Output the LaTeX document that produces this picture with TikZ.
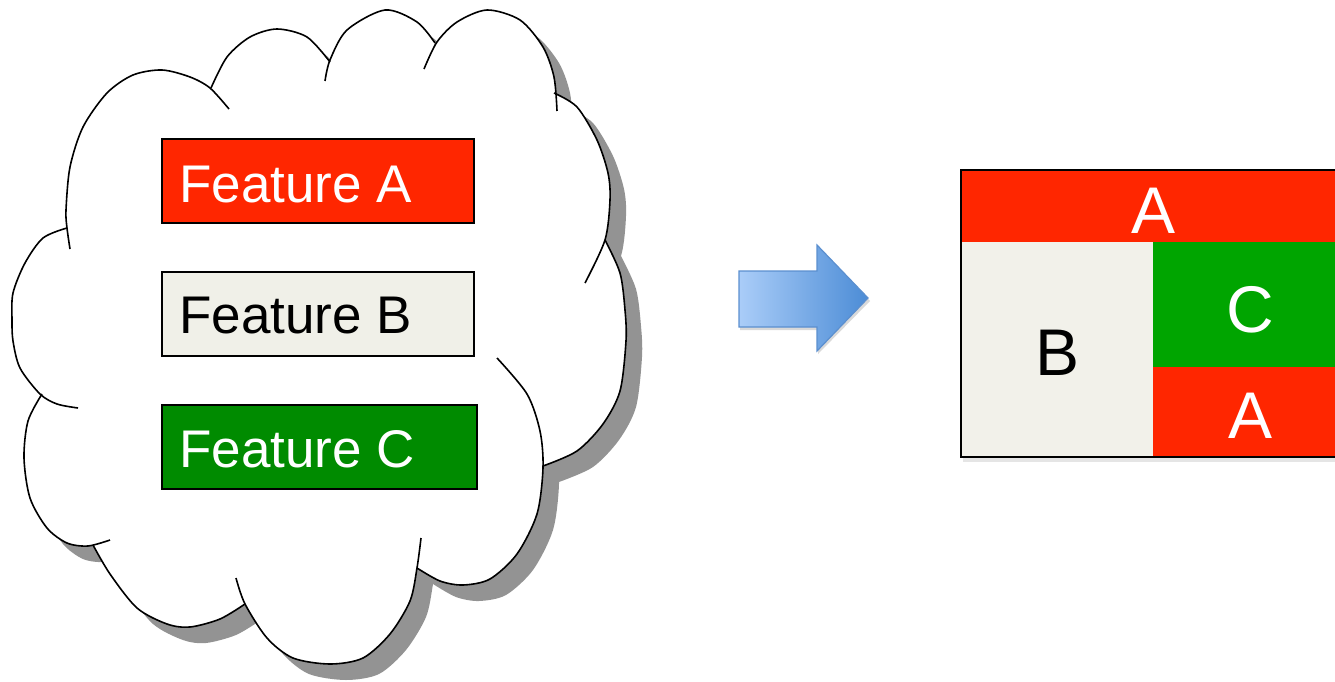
\documentclass[tikz,border=0pt]{standalone}
\usepackage{fontspec}
\setmainfont{Liberation Sans}
\definecolor{fred}{HTML}{FF2600}
\definecolor{fgreen}{HTML}{008B00}
\definecolor{bgreen}{HTML}{00A500}
\definecolor{fbeige}{HTML}{F0F0E8}
\definecolor{bbeige}{HTML}{F2F1EA}
\definecolor{shadowgray}{HTML}{939393}
\definecolor{arrowL}{HTML}{AACDF8}
\definecolor{arrowR}{HTML}{4C8CD6}
\definecolor{arrowE}{HTML}{5B8FCF}
\begin{document}
\begin{tikzpicture}[x=1pt,y=-1pt,
  lobe/.style={draw=black, line width=1.6pt},
  featbox/.style={draw=black, line width=2pt, inner sep=0pt, anchor=north west},
  feattext/.style={anchor=base west, inner sep=0pt, font=\fontsize{53}{60}\selectfont},
  bigletter/.style={anchor=base, inner sep=0pt, font=\fontsize{66}{72}\selectfont}]
\useasboundingbox (0,0) rectangle (1335,682);
\clip (0,0) rectangle (1335,682);

% cloud fill with shadow
\path[fill=white, preaction={fill=shadowgray, transform canvas={shift={(16,16)}}}]
  plot[smooth] coordinates {(70,249) (67,228) (66,210) (70,167) (83,127) (107,93) (133,75) (162,70) (190,77) (210,88) (229,109)}
  -- plot[smooth] coordinates {(211,88) (227,57) (250,37) (277,29) (307,37) (330,62)}
  -- plot[smooth] coordinates {(325,81) (330,60) (347,30) (385,10) (417,22) (435,43)}
  -- plot[smooth] coordinates {(424,69) (437,42) (457,22) (487,10) (520,20) (543,47) (554,77) (557,111)}
  -- plot[smooth] coordinates {(554,93) (577,107) (597,140) (608,173) (610,200) (605,240) (585,283)}
  -- plot[smooth] coordinates {(605,240) (620,273) (625,310) (626,341) (620,391) (603,424) (577,451) (543,466)}
  -- plot[smooth] coordinates {(497,358) (527,394) (540,431) (543,468) (537,514) (517,554) (490,579) (463,585) (440,581) (417,568)}
  -- plot[smooth] coordinates {(421,538) (417,568) (410,601) (390,634) (363,658) (330,664) (293,658) (267,638) (245,604) (236,578)}
  -- plot[smooth] coordinates {(245,604) (220,619) (190,627) (167,624) (137,608) (110,574) (93,545)}
  -- plot[smooth] coordinates {(110,540) (88,546) (67,543) (47,528) (30,498) (24,458) (28,421) (42,394)}
  -- plot[smooth] coordinates {(78,408) (57,404) (40,394) (20,368) (13,341) (12,320) (13,293) (25,263) (43,238) (67,228)}
  -- cycle;

% cloud lobes
\draw[lobe] plot[smooth] coordinates {(70,249) (67,228) (66,210) (70,167) (83,127) (107,93) (133,75) (162,70) (190,77) (210,88) (229,109)};
\draw[lobe] plot[smooth] coordinates {(211,88) (227,57) (250,37) (277,29) (307,37) (330,62)};
\draw[lobe] plot[smooth] coordinates {(325,81) (330,60) (347,30) (385,10) (417,22) (435,43)};
\draw[lobe] plot[smooth] coordinates {(424,69) (437,42) (457,22) (487,10) (520,20) (543,47) (554,77) (557,111)};
\draw[lobe] plot[smooth] coordinates {(554,93) (577,107) (597,140) (608,173) (610,200) (605,240) (585,283)};
\draw[lobe] plot[smooth] coordinates {(605,240) (620,273) (625,310) (626,341) (620,391) (603,424) (577,451) (543,466)};
\draw[lobe] plot[smooth] coordinates {(497,358) (527,394) (540,431) (543,468) (537,514) (517,554) (490,579) (463,585) (440,581) (417,568)};
\draw[lobe] plot[smooth] coordinates {(421,538) (417,568) (410,601) (390,634) (363,658) (330,664) (293,658) (267,638) (245,604) (236,578)};
\draw[lobe] plot[smooth] coordinates {(245,604) (220,619) (190,627) (167,624) (137,608) (110,574) (93,545)};
\draw[lobe] plot[smooth] coordinates {(110,540) (88,546) (67,543) (47,528) (30,498) (24,458) (28,421) (42,394)};
\draw[lobe] plot[smooth] coordinates {(78,408) (57,404) (40,394) (20,368) (13,341) (12,320) (13,293) (25,263) (43,238) (67,228)};

% feature boxes
\node[featbox, fill=fred, minimum width=312pt, minimum height=84pt] (boxa) at (161,138) {};
\node[featbox, fill=fbeige, minimum width=312pt, minimum height=84pt] (boxb) at (161,271) {};
\node[featbox, fill=fgreen, minimum width=315pt, minimum height=84pt] (boxc) at (161,404) {};
\node[feattext, text=white] (ta) at (179,202) {Feature A};
\node[feattext, text=black] (tb) at (179,333) {Feature B};
\node[feattext, text=white] (tc) at (179,467) {Feature C};

% arrow
\fill[black, opacity=0.15] (740,274) -- (818,274) -- (818,248) -- (870,301) -- (818,354) -- (818,330) -- (740,330) -- cycle;
\path[draw=arrowE, line width=1.2pt, left color=arrowL, right color=arrowR]
  (739,271) -- (817,271) -- (817,245) -- (868,298) -- (817,351) -- (817,327) -- (739,327) -- cycle;

% result box
\fill[black, opacity=0.10] (963,173) rectangle (1348,462);
\fill[fred] (961,170) rectangle (1345,242);
\fill[bbeige] (961,242) rectangle (1153,457);
\fill[bgreen] (1153,242) rectangle (1345,367);
\fill[fred] (1153,367) rectangle (1345,457);
\draw[black, line width=2.2pt] (961,170) rectangle (1345,457);
\node[bigletter, text=white] (ra) at (1153,233) {A};
\node[bigletter, text=black] (rb) at (1057,375) {B};
\node[bigletter, text=white] (rc) at (1250,332) {C};
\node[bigletter, text=white] (rd) at (1250,438) {A};
\end{tikzpicture}
\end{document}
